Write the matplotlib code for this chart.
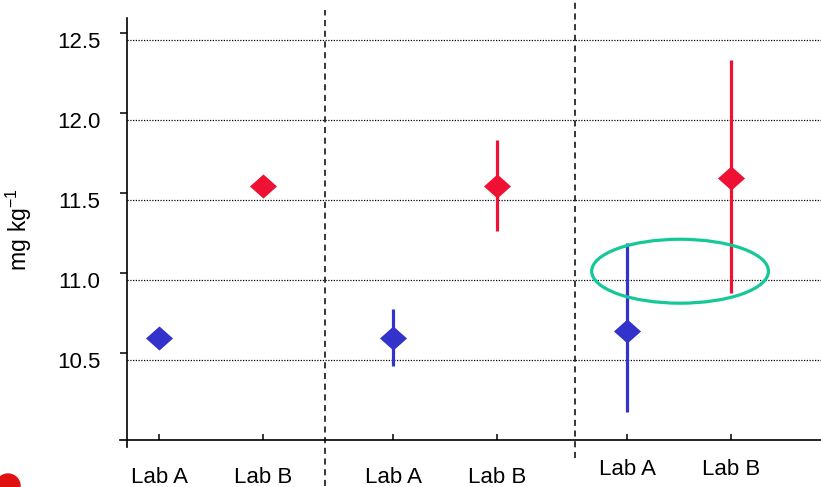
import matplotlib
matplotlib.use("Agg")
import matplotlib.pyplot as plt
import matplotlib.transforms as mtransforms
from matplotlib.patches import Ellipse, Circle

plt.rcParams['font.family'] = ['Liberation Sans', 'DejaVu Sans']
plt.rcParams['mathtext.fontset'] = 'custom'
plt.rcParams['mathtext.rm'] = 'Liberation Sans'

# Lab means with their uncertainty ranges, three comparison rounds
positions = [1, 2, 3.25, 4.25, 5.5, 6.5]
lab_names = ["Lab A", "Lab B", "Lab A", "Lab B", "Lab A", "Lab B"]
means = [10.64, 11.59, 10.64, 11.59, 10.68, 11.64]
err_low = [None, None, 10.46, 11.31, 10.175, 10.92]
err_high = [None, None, 10.82, 11.875, 11.23, 12.375]
colors = ["#3333cc", "#ee1133", "#3333cc", "#ee1133", "#3333cc", "#ee1133"]
separators = [2.6, 5.0]
yticks = [10.5, 11.0, 11.5, 12.0, 12.5]

# slightly flattened diamond
diamond = [(-1, 0), (0, 0.89), (1, 0), (0, -0.89), (-1, 0)]

fig = plt.figure(figsize=(8.21, 4.87), dpi=100)
ax = fig.add_axes([0.1547, 0.0965, 0.8453, 0.8665])
ax.set_xlim(0.692, 7.365)
ax.set_ylim(10.0, 12.64)

# dotted reference lines
for y in yticks:
    ax.axhline(y, color="black", lw=0.9, ls=(0, (1, 1.2)), zorder=1)

# dashed group separators, running past the axes
ax.axvline(separators[0], ymin=-0.11, ymax=1.019, color="black", lw=1.1,
           ls=(0, (4, 3)), clip_on=False, zorder=1)
ax.axvline(separators[1], ymin=-0.043, ymax=1.043, color="black", lw=1.1,
           ls=(0, (4, 3)), clip_on=False, zorder=1)

for x, m, lo, hi, c in zip(positions, means, err_low, err_high, colors):
    if lo is not None:
        ax.plot([x, x], [lo, hi], color=c, lw=2.3, zorder=2, solid_capstyle="butt")
    ax.plot(x, m, marker=diamond, ms=19.5, color=c, mec="none", zorder=3)

# highlight of the overlapping range
ax.add_patch(Ellipse((6.01, 11.056), 1.70, 0.40, fill=False,
                     ec="#14c897", lw=2.3, zorder=4))

for side in ["top", "right"]:
    ax.spines[side].set_visible(False)
ax.spines["left"].set_bounds(9.956, 12.64)
ax.spines["bottom"].set_bounds(0.625, 7.365)
ax.spines["left"].set_linewidth(1.2)
ax.spines["bottom"].set_linewidth(1.2)

ax.set_yticks(yticks, [f"{v:.1f}" for v in yticks])
ax.tick_params(axis="y", direction="out", length=5, width=1.1, pad=14, labelsize=16)
ax.set_xticks(positions, lab_names)
ax.tick_params(axis="x", direction="in", length=4.5, width=1.1, pad=19.5, labelsize=16)

# y tick marks sit a few pixels above the reference lines
up = mtransforms.ScaledTranslation(0, 7 / 100, fig.dpi_scale_trans)
for t in ax.yaxis.get_major_ticks():
    t.tick1line.set_transform(t.tick1line.get_transform() + up)

# last pair of lab labels sits slightly higher
raise_lbl = mtransforms.ScaledTranslation(0, 8 / 100, fig.dpi_scale_trans)
for t in ax.xaxis.get_major_ticks()[4:]:
    t.label1.set_transform(t.label1.get_transform() + raise_lbl)

ax.set_ylabel(r"$\mathregular{mg\ kg^{-1}}$", fontsize=16.5)
ax.yaxis.set_label_coords(-0.134, 0.5)

# logo corner
fig.patches.append(Circle((0.08, 0.01), 0.12, transform=fig.dpi_scale_trans,
                          color="#e01010", zorder=0))

fig.savefig("out.png", dpi=100)
